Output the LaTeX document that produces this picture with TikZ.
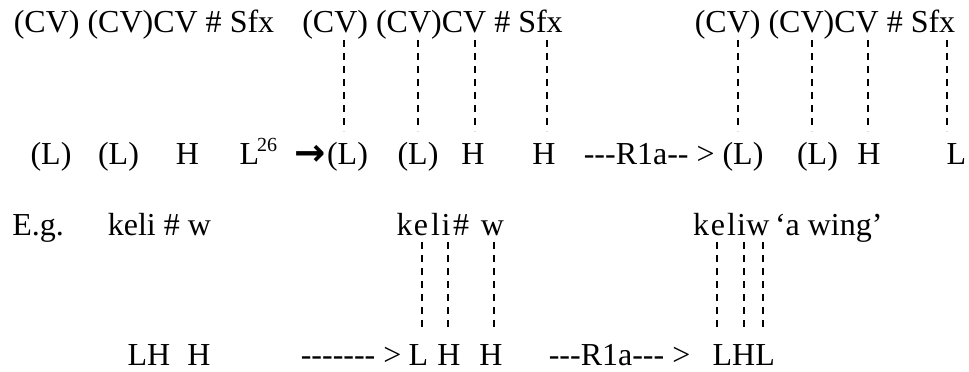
\documentclass[tikz,border=0pt]{standalone}
\usepackage{fontspec}
\setmainfont{Liberation Serif}
\newfontfamily\arrowfont{DejaVu Sans}
\tikzset{
  txt/.style={inner sep=0pt, outer sep=0pt, font=\fontsize{24}{28}\selectfont, anchor=base},
  txtw/.style={txt, anchor=base west},
  suptxt/.style={inner sep=0pt, outer sep=0pt, font=\fontsize{15}{17}\selectfont, anchor=base west},
  arrowtxt/.style={inner sep=0pt, outer sep=0pt, font=\fontsize{28}{30}\arrowfont\bfseries, anchor=center},
  assoc/.style={line width=1.5pt, dash pattern=on 5.25pt off 4.5pt},
}
\newcommand{\assocline}[4]{%
  \coordinate (#1-t) at (#2,#3);
  \coordinate (#1-b) at (#2,#4);
  \draw[assoc] (#1-t) -- (#1-b);}
\begin{document}
\begin{tikzpicture}[x=0.75pt, y=-0.75pt]
\useasboundingbox (0,0) rectangle (969,371);
% Row 1
\node[txt] (s1) at (144,32) {(CV) (CV)CV \# Sfx};
\node[txt] (s2) at (432.5,32) {(CV) (CV)CV \# Sfx};
\node[txt] (s3) at (825,32) {(CV) (CV)CV \# Sfx};
% Row 2
\node[txt] (a1) at (51,164) {(L)};
\node[txt] (a2) at (118.5,164) {(L)};
\node[txt] (a3) at (187.5,164) {H};
\node[txtw] (a4) at (239.6,164) {L};
\node[suptxt] (a4s) at (257,151) {26};
\node[arrowtxt] (arr) at (310,155) {→};
\node[txt] (b1) at (347.5,164) {(L)};
\node[txt] (b2) at (418,164) {(L)};
\node[txt] (b3) at (473,164) {H};
\node[txt] (b4) at (544,164) {H};
\node[txtw] (r1a) at (583.8,164) {-{}-{}-R1a-{}- >};
\node[txt] (c1) at (743,164) {(L)};
\node[txt] (c2) at (817.5,164) {(L)};
\node[txt] (c3) at (869,164) {H};
\node[txtw] (c4) at (946.6,164) {L};
% association lines, rows 1-2
\assocline{p1}{344}{40}{131}
\assocline{p2}{418}{40}{131}
\assocline{p3}{475}{40}{131}
\assocline{p4}{547}{40}{131}
\assocline{q1}{738}{40}{131}
\assocline{q2}{812}{40}{131}
\assocline{q3}{868}{40}{131}
\assocline{q4}{947}{40}{131}
% Row 3
\node[txtw] (eg) at (12.3,235) {E.g.};
\node[txtw] (w1) at (107.8,235) {keli \# w};
\node[txt] (k2) at (404.5,235) {k};
\node[txt] (e2) at (421,235) {e};
\node[txt] (l2) at (435.5,235) {l};
\node[txt] (i2) at (446,235) {i};
\node[txt] (h2) at (461,235) {\#};
\node[txt] (ww2) at (492.5,235) {w};
\node[txt] (k3) at (701,235) {k};
\node[txt] (e3) at (718,235) {e};
\node[txt] (l3) at (731.5,235) {l};
\node[txt] (i3) at (741.5,235) {i};
\node[txt] (ww3) at (758,235) {w};
\node[txtw] (gl) at (775,235) {‘a wing’};
% association lines, rows 3-4
\assocline{u1}{422}{242}{330}
\assocline{u2}{448}{242}{330}
\assocline{u3}{494}{242}{330}
\assocline{v1}{717}{242}{330}
\assocline{v2}{744}{242}{330}
\assocline{v3}{763}{242}{330}
% Row 4
\node[txtw] (d1) at (127.6,365) {LH};
\node[txt] (d2) at (199,365) {H};
\node[txtw] (d3) at (300.8,365) {-{}-{}-{}-{}-{}-{}- >};
\node[txt] (e1) at (418.5,365) {L};
\node[txt] (e2b) at (449,365) {H};
\node[txt] (e3b) at (491,365) {H};
\node[txtw] (d4) at (548.8,365) {-{}-{}-R1a-{}-{}- >};
\node[txtw] (f1) at (712.6,365) {LHL};
\end{tikzpicture}
\end{document}
